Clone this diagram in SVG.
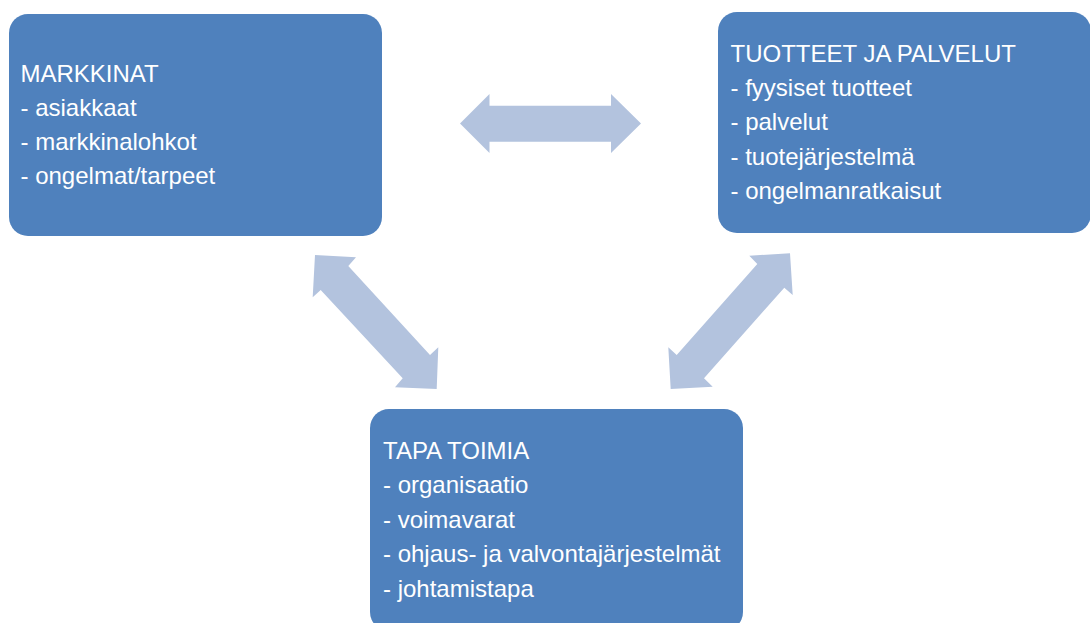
<svg xmlns="http://www.w3.org/2000/svg" width="1090" height="623" viewBox="0 0 1090 623">
<style>
.box{fill:#4F81BD;}
.arr{fill:#B3C3DE;}
.t{font-family:"Liberation Sans",Arial,sans-serif;font-size:24px;fill:#FFFFFF;}
</style>
<rect width="1090" height="623" fill="#FFFFFF"/>
<g id="connectors">
<polygon class="arr" points="460,123.5 489.5,94 489.5,105.7 611,105.7 611,94 641,123.5 611,153 611,141.7 489.5,141.7 489.5,153"/>
<polygon class="arr" points="315,255 356,257.3 348.3,266 430,355 438.3,347.3 436.7,389 395,387.3 402.7,378.3 320.7,290 312.7,297.3"/>
<polygon class="arr" points="790,253.3 792.7,295 784.3,287.7 704,378.3 712.7,386.7 670.7,389 668.3,347.3 676.7,355 757.3,264 749.3,255.7"/>
</g>
<g id="markkinat">
<rect class="box" x="9" y="14" width="373" height="222" rx="19" ry="19"/>
<text class="t" x="20.5" y="81.5">MARKKINAT</text>
<text class="t" x="20.5" y="115.5">- asiakkaat</text>
<text class="t" x="20.5" y="150">- markkinalohkot</text>
<text class="t" x="20.5" y="184">- ongelmat/tarpeet</text>
</g>
<g id="tuotteet">
<rect class="box" x="718" y="12" width="373" height="221" rx="19" ry="19"/>
<text class="t" x="730.5" y="61.5">TUOTTEET JA PALVELUT</text>
<text class="t" x="730.5" y="95.5">- fyysiset tuotteet</text>
<text class="t" x="730.5" y="130">- palvelut</text>
<text class="t" x="730.5" y="164.5">- tuotejärjestelmä</text>
<text class="t" x="730.5" y="198.5">- ongelmanratkaisut</text>
</g>
<g id="tapa-toimia">
<rect class="box" x="370" y="409" width="373" height="222" rx="19" ry="19"/>
<text class="t" x="383" y="459">TAPA TOIMIA</text>
<text class="t" x="383" y="493">- organisaatio</text>
<text class="t" x="383" y="527.5">- voimavarat</text>
<text class="t" x="383" y="562">- ohjaus- ja valvontajärjestelmät</text>
<text class="t" x="383" y="596.5">- johtamistapa</text>
</g>
</svg>
